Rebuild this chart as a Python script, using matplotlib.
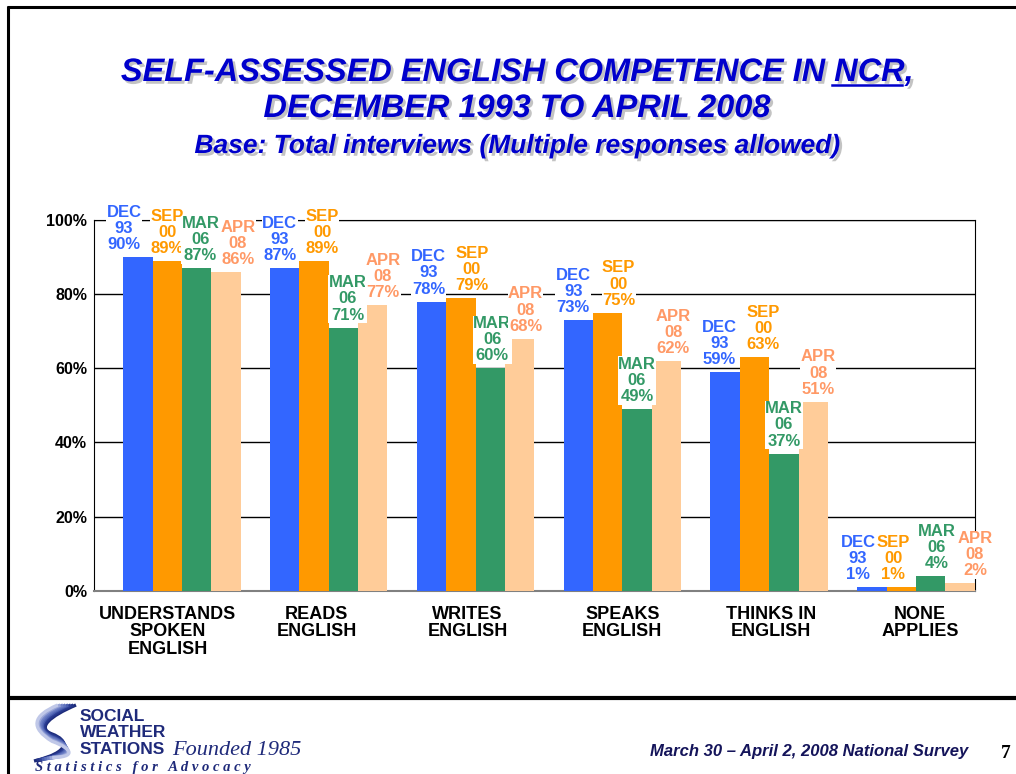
import numpy as np
import matplotlib.pyplot as plt
import matplotlib.transforms as mtransforms
from matplotlib import patheffects
from matplotlib.path import Path
from matplotlib.patches import PathPatch

plt.rcParams['font.family'] = ['Liberation Sans', 'DejaVu Sans']

categories = ["UNDERSTANDS\nSPOKEN\nENGLISH", "READS\nENGLISH", "WRITES\nENGLISH",
              "SPEAKS\nENGLISH", "THINKS IN\nENGLISH", "NONE\nAPPLIES"]
series_names = ["DEC\n93", "SEP\n00", "MAR\n06", "APR\n08"]
dec93 = [90, 87, 78, 73, 59, 1]
sep00 = [89, 89, 79, 75, 63, 1]
mar06 = [87, 71, 60, 49, 37, 4]
apr08 = [86, 77, 68, 62, 51, 2]
yticks = [0, 20, 40, 60, 80, 100]

# horizontal nudges (pixels) of the value labels, per category and series
label_dx = [[-14, 0, 4, 12],
            [-5, 8, 4, 10],
            [-3, 11, 2, 6],
            [-5, 11, 0, 7],
            [-6, 9, 0, 5],
            [-14, -8, 6, 15]]
# horizontal nudges (pixels) of the category labels
cat_dx = [-14, -12, -8, 0, 2, 4]

bar_colors = ['#3366FF', '#FF9900', '#339966', '#FFCC99']
label_colors = ['#3366FF', '#FF9900', '#339966', '#FF9966']
title_color = '#0000CC'

fig = plt.figure(figsize=(10.16, 7.74), dpi=100)

# full-figure overlay in pixel coordinates for frame, titles and footer
bg = fig.add_axes([0, 0, 1, 1], zorder=0)
bg.set_xlim(0, 1016)
bg.set_ylim(774, 0)
bg.axis('off')

bg.plot([8, 8], [6, 774], color='black', lw=2.2, solid_capstyle='butt')
bg.plot([7, 1016], [7, 7], color='black', lw=2.2, solid_capstyle='butt')
bg.plot([7, 1016], [698, 698], color='black', lw=3, solid_capstyle='butt')

shadow = [patheffects.withSimplePatchShadow(offset=(2, -2), shadow_rgbFace='#888888', alpha=0.5)]
tprops = dict(color=title_color, fontweight='bold', fontstyle='italic', ha='center', va='baseline',
              path_effects=shadow)
line1 = "SELF-ASSESSED ENGLISH COMPETENCE IN NCR,"
t1 = bg.text(517, 81, line1, fontsize=23.4, **tprops)
bg.text(517, 117, "DECEMBER 1993 TO APRIL 2008", fontsize=23.4, **tprops)
bg.text(517, 153, "Base: Total interviews (Multiple responses allowed)", fontsize=19, **tprops)

# underline "NCR"
fig.canvas.draw()
r = fig.canvas.get_renderer()
def text_width(s):
    tmp = bg.text(0, 0, s, fontsize=23.4, fontweight='bold', fontstyle='italic')
    w = tmp.get_window_extent(r).width
    tmp.remove()
    return w
x0 = t1.get_window_extent(r).x0
x_end = x0 + text_width("SELF-ASSESSED ENGLISH COMPETENCE IN NCR")
x_start = x_end - text_width("NCR")
bg.plot([x_start - 2, x_end - 2], [85, 85], color=title_color, lw=1.8)

# main chart
ax = fig.add_axes([94 / 1016, 1 - 590.7 / 774, 881 / 1016, 370.7 / 774], zorder=1)
x = np.arange(len(categories))
w = 0.2
for j, vals in enumerate([dec93, sep00, mar06, apr08]):
    pos = x + (j - 1.5) * w
    ax.bar(pos, vals, width=w, color=bar_colors[j], zorder=3)
    for i, (px, v) in enumerate(zip(pos, vals)):
        ax.annotate(f"{series_names[j]}\n{v}%", (px, v), xytext=(label_dx[i][j] * 0.72, 3.5),
                    textcoords='offset points',
                    ha='center', va='bottom', fontsize=12, fontweight='bold', color=label_colors[j],
                    linespacing=1.1, zorder=5, annotation_clip=False,
                    bbox=dict(facecolor='white', edgecolor='none', pad=0.3))

ax.set_xlim(-0.599, 5.402)
ax.set_ylim(0, 100)
ax.set_yticks(yticks)
ax.set_yticklabels([f"{t}%" for t in yticks], fontsize=11.5, fontweight='bold')
ax.yaxis.grid(True, color='black', lw=1, zorder=0)
ax.set_xticks(x)
ax.set_xticklabels(categories, fontsize=13, fontweight='bold', linespacing=1.03)
ax.tick_params(axis='x', length=0, pad=11)
ax.tick_params(axis='y', length=0, pad=5)
for lab, dx in zip(ax.get_xticklabels(), cat_dx):
    lab.set_transform(lab.get_transform() + mtransforms.ScaledTranslation(dx / 100, 0, fig.dpi_scale_trans))
for s in ['left', 'right', 'top']:
    ax.spines[s].set_color('black')
ax.spines['bottom'].set_color('#808080')
ax.spines['bottom'].set_linewidth(1.5)

# footer: logo
shades = ['#1c2a78', '#24358a', '#2d3f95', '#4a5fb0', '#6073bd', '#7284c8', '#9aa6d8', '#c0c8e8']
for k, c in enumerate(shades):
    d = k * 2.6
    verts = [(76 - d, 705), (50 - d, 716), (36 - d * 0.3, 728), (52, 734 + d * 0.4),
             (68 + d * 0.3, 740 + d * 0.5), (72 + d * 0.2, 752 + d * 0.3), (34 + d, 761 - d * 0.2)]
    codes = [Path.MOVETO, Path.CURVE4, Path.CURVE4, Path.CURVE4, Path.CURVE4, Path.CURVE4, Path.CURVE4]
    bg.add_patch(PathPatch(Path(verts, codes), facecolor='none', edgecolor=c, lw=2.4))

navy = '#1f2a7a'
bg.text(80, 721, "SOCIAL", fontsize=12.5, fontweight='bold', color=navy, va='baseline')
bg.text(80, 737, "WEATHER", fontsize=12.5, fontweight='bold', color=navy, va='baseline')
bg.text(80, 754, "STATIONS", fontsize=12.5, fontweight='bold', color=navy, va='baseline')
bg.text(172, 755, "Founded 1985", fontsize=16, fontstyle='italic', color=navy, va='baseline',
        family='Liberation Serif')
bg.text(35, 771, " ".join("Statistics") + "   " + " ".join("for") + "   " + " ".join("Advocacy"),
        fontsize=10.5, fontweight='bold', fontstyle='italic', color=navy, va='baseline',
        family='Liberation Serif')

bg.text(968, 756, "March 30 \u2013 April 2, 2008 National Survey", fontsize=12, fontweight='bold',
        fontstyle='italic', color='#14145a', ha='right', va='baseline')
bg.text(1006, 758, "7", fontsize=14, fontweight='bold', color='black', ha='center', va='baseline',
        family='Liberation Serif')

fig.savefig('out.png', dpi=100)
